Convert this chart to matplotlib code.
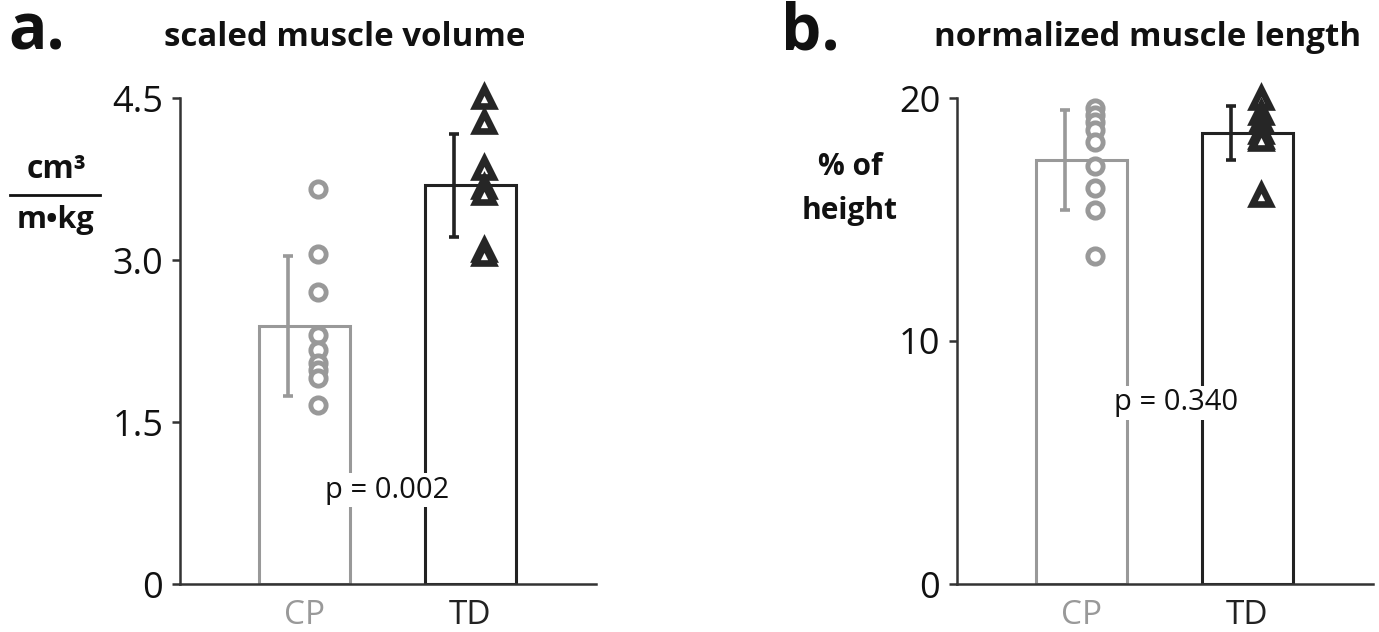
import matplotlib
matplotlib.use("Agg")
import matplotlib.pyplot as plt
from matplotlib.lines import Line2D

plt.rcParams['font.family'] = ['Open Sans', 'DejaVu Sans']

groups = ["CP", "TD"]
group_colors = ["#999999", "#222222"]

# panel a: scaled muscle volume
vol_means = [2.39, 3.69]
vol_sd = [0.645, 0.475]
vol_cp = [3.66, 3.06, 2.70, 2.31, 2.17, 2.05, 1.98, 1.91, 1.66]
vol_td = [4.51, 4.28, 3.85, 3.68, 3.62, 3.09, 3.06]
vol_ticks = [0, 1.5, 3.0, 4.5]
vol_ticklabels = ["0", "1.5", "3.0", "4.5"]
vol_p = "p = 0.002"

# panel b: normalized muscle length
len_means = [17.45, 18.56]
len_sd = [2.05, 1.11]
len_cp = [19.6, 19.3, 19.0, 18.7, 18.2, 17.2, 16.3, 15.4, 13.5]
len_td = [20.0, 19.4, 19.0, 18.6, 18.4, 18.3, 16.0]
len_ticks = [0, 10, 20]
len_ticklabels = ["0", "10", "20"]
len_p = "p = 0.340"

W, H = 1379, 632
fig = plt.figure(figsize=(W / 100, H / 100), dpi=100)

def px(x0, y0, x1, y1):
    return [x0 / W, 1 - y1 / H, (x1 - x0) / W, (y1 - y0) / H]

def panel(rect, means, sds, cp, td, ticks, ticklabels, ymax, ptext, ppos):
    ax = fig.add_axes(rect)
    xs = [1, 2]
    for i in range(2):
        ax.bar(xs[i], means[i], width=0.55, facecolor="white",
               edgecolor=group_colors[i], linewidth=2.2, zorder=1)
        ax.errorbar(xs[i] - 0.10, means[i], yerr=sds[i], fmt="none",
                    ecolor=group_colors[i], elinewidth=2.6, capsize=3.8,
                    capthick=2.6, zorder=3)
    ax.plot([xs[0] + 0.08] * len(cp), cp, linestyle="none", marker="o",
            markersize=11, markerfacecolor="white", markeredgecolor="#999999",
            markeredgewidth=3.5, zorder=4, clip_on=False)
    ax.plot([xs[1] + 0.08] * len(td), td, linestyle="none", marker="^",
            markersize=12.5, markerfacecolor="white", markeredgecolor="#262626",
            markeredgewidth=4.8, zorder=4, clip_on=False)
    ax.text(ppos[0], ppos[1], ptext, ha="center", va="center", fontsize=21,
            color="#111111", zorder=5,
            bbox=dict(facecolor="white", edgecolor="none", pad=1.5))
    ax.set_xlim(0.25, 2.758)
    ax.set_ylim(0, ymax)
    ax.set_yticks(ticks)
    ax.set_yticklabels(ticklabels, fontsize=26, color="#111111")
    ax.set_xticks(xs)
    ax.set_xticklabels(groups, fontsize=24)
    for lbl, c in zip(ax.get_xticklabels(), group_colors):
        lbl.set_color(c)
    ax.tick_params(axis="x", length=0, pad=11)
    ax.tick_params(axis="y", length=6, width=1.8, color="#333333", pad=6)
    for s in ["top", "right"]:
        ax.spines[s].set_visible(False)
    for s in ["left", "bottom"]:
        ax.spines[s].set_linewidth(1.8)
        ax.spines[s].set_color("#333333")
    ax.set_facecolor("none")
    return ax

panel(px(180, 98, 596, 584), vol_means, vol_sd, vol_cp, vol_td,
      vol_ticks, vol_ticklabels, 4.5, vol_p, (1.5, 0.87))
panel(px(957, 98, 1373, 584), len_means, len_sd, len_cp, len_td,
      len_ticks, len_ticklabels, 20, len_p, (1.57, 7.45))

bold = dict(fontweight="bold", color="#111111")
fig.text(8 / W, 1 - 33 / H, "a.", fontsize=46, ha="left", va="center", **bold)
fig.text(781 / W, 1 - 33 / H, "b.", fontsize=46, ha="left", va="center", **bold)
fig.text(345 / W, 1 - 37 / H, "scaled muscle volume", fontsize=23.8, ha="center", va="center", **bold)
fig.text(1148 / W, 1 - 37 / H, "normalized muscle length", fontsize=23.8, ha="center", va="center", **bold)

fig.text(57 / W, 1 - 170 / H, "cm³", fontsize=23, ha="center", va="center", **bold)
fig.text(55 / W, 1 - 220 / H, "m•kg", fontsize=22, ha="center", va="center", **bold)
fig.add_artist(Line2D([10 / W, 100 / W], [1 - 195 / H, 1 - 195 / H],
                      color="#111111", linewidth=2.0, transform=fig.transFigure))
fig.text(850 / W, 1 - 189 / H, "% of\nheight", fontsize=21.5, ha="center", va="center",
         linespacing=1.6, **bold)

fig.savefig("out.png", dpi=100)
